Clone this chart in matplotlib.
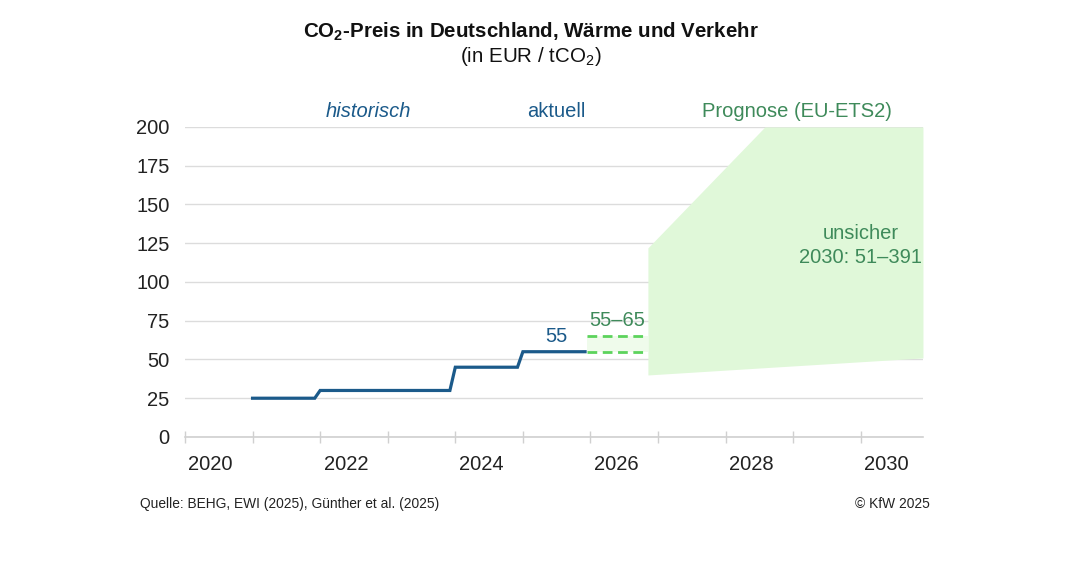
import numpy as np
import matplotlib.pyplot as plt

plt.rcParams['font.family'] = ['Liberation Sans', 'DejaVu Sans']
plt.rcParams['mathtext.fontset'] = 'custom'
plt.rcParams['mathtext.rm'] = 'Liberation Sans'
plt.rcParams['mathtext.bf'] = 'Liberation Sans:bold'

# historischer / aktueller Preis (Jahr als Dezimalzahl, EUR/tCO2)
hist_x = [2021.0, 2021.92, 2022.0, 2023.92, 2024.0, 2024.92, 2025.0, 2025.92]
hist_y = [25, 25, 30, 30, 45, 45, 55, 55]

# Preiskorridor 2026
korr_x = [2025.95, 2026.85]
korr_lo = [55, 55]
korr_hi = [65, 65]

# Prognose EU-ETS2 (Band)
prog_x = [2026.85, 2028.58, 2030.92]
prog_lo = [40, 44.7, 51]
prog_hi = [122, 200, 200]

year_labels = [2020, 2022, 2024, 2026, 2028, 2030]
y_ticks = [0, 25, 50, 75, 100, 125, 150, 175, 200]

blue = '#1b5a8a'
green_txt = '#3e8a5a'
green_dash = '#5cd35c'
green_fill = '#e0f8d9'

fig = plt.figure(figsize=(10.68, 5.8), dpi=100)
ax = fig.add_axes([0.1732, 0.2466, 0.6910, 0.5345])

ax.fill_between(prog_x, prog_lo, prog_hi, color=green_fill, lw=0, zorder=1)
ax.fill_between(korr_x, korr_lo, korr_hi, color=green_fill, alpha=0.5, lw=0, zorder=1)
ax.plot(hist_x, hist_y, color=blue, lw=2.3, zorder=3, solid_joinstyle='miter')
ax.plot(korr_x, korr_lo, color=green_dash, lw=2, ls=(0, (3.5, 2)), zorder=3)
ax.plot(korr_x, korr_hi, color=green_dash, lw=2, ls=(0, (3.5, 2)), zorder=3)

ax.set_xlim(2020, 2030.92)
ax.set_ylim(0, 200)
ax.set_yticks(y_ticks)
ax.grid(axis='y', color='#dcdcdc', lw=1, zorder=0)
ax.set_axisbelow(True)
for s in ['top', 'right', 'left']:
    ax.spines[s].set_visible(False)
ax.spines['bottom'].set_color('#d0d0d0')
ax.spines['bottom'].set_linewidth(1.2)

# Jahresticks ohne Beschriftung, Labels zwischen den Ticks
ax.set_xticks(np.arange(2020, 2031))
ax.set_xticklabels([])
ax.set_xticks([y + 0.38 for y in year_labels], minor=True)
ax.set_xticklabels([str(y) for y in year_labels], minor=True)
ax.tick_params(axis='x', which='major', direction='inout', length=9,
               color='#d0d0d0', width=1)
ax.tick_params(axis='x', which='minor', length=0, pad=13, labelsize=14.5,
               labelcolor='#222222')
ax.tick_params(axis='y', length=0, pad=11, labelsize=14.5, labelcolor='#222222')

ax.text(2022.72, 210, 'historisch', color=blue, fontsize=14.5, style='italic',
        ha='center', va='center', clip_on=False)
ax.text(2025.5, 210, 'aktuell', color=blue, fontsize=14.5,
        ha='center', va='center', clip_on=False)
ax.text(2029.06, 210, 'Prognose (EU-ETS2)', color=green_txt, fontsize=14.5,
        ha='center', va='center', clip_on=False)
ax.text(2030.0, 131, 'unsicher', color=green_txt, fontsize=14.5,
        ha='center', va='center')
ax.text(2030.9, 116, '2030: 51–391', color=green_txt, fontsize=14.5,
        ha='right', va='center')
ax.text(2025.5, 64.5, '55', color=blue, fontsize=14.5, ha='center', va='center')
ax.text(2026.4, 75, '55–65', color=green_txt, fontsize=14.5,
        ha='center', va='center')

fig.text(0.497, 1 - 32 / 580, r'CO$_\mathbf{2}$-Preis in Deutschland, Wärme und Verkehr',
         ha='center', va='center', fontsize=14.8, fontweight='bold', color='#111111')
fig.text(0.497, 1 - 57 / 580, r'(in EUR / tCO$_2$)', ha='center', va='center',
         fontsize=14.8, color='#111111')

fig.text(140 / 1068, 1 - 504 / 580, 'Quelle: BEHG, EWI (2025), Günther et al. (2025)',
         ha='left', va='center', fontsize=9.9, color='#222222')
fig.text(930 / 1068, 1 - 504 / 580, '© KfW 2025', ha='right', va='center',
         fontsize=9.9, color='#222222')

fig.savefig('out.png', dpi=100, facecolor='white')
